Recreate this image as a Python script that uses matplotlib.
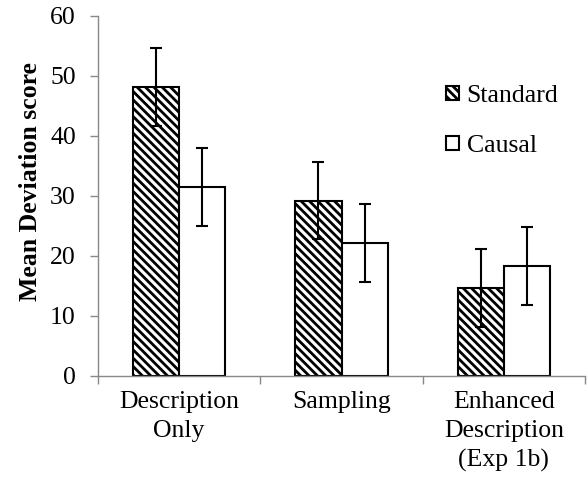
import matplotlib
matplotlib.use('Agg')
import matplotlib.pyplot as plt
import numpy as np

plt.rcParams['font.family'] = ['Liberation Serif', 'DejaVu Serif']
plt.rcParams['font.size'] = 18.5
plt.rcParams['hatch.linewidth'] = 2.0

categories = ['Description\nOnly', 'Sampling', 'Enhanced\nDescription\n(Exp 1b)']
standard = [48.2, 29.2, 14.7]
causal = [31.5, 22.2, 18.3]
standard_err = [6.5, 6.4, 6.5]
causal_err = [6.5, 6.5, 6.5]

fig = plt.figure(figsize=(5.88, 4.84), dpi=100)
ax = fig.add_axes([98/588, 1-376/484, 487/588, 360/484])

x = np.arange(len(categories))
w = 0.285
ax.bar(x - w/2, standard, w, color='white', edgecolor='black', hatch='\\\\\\\\',
       linewidth=1.5, label='Standard', zorder=2)
ax.bar(x + w/2, causal, w, color='white', edgecolor='black',
       linewidth=1.5, label='Causal', zorder=2)
ax.errorbar(x - w/2, standard, yerr=standard_err, fmt='none', ecolor='black',
            elinewidth=1.5, capsize=4.5, capthick=1.5, zorder=3)
ax.errorbar(x + w/2, causal, yerr=causal_err, fmt='none', ecolor='black',
            elinewidth=1.5, capsize=4.5, capthick=1.5, zorder=3)

ax.set_xlim(-0.5, 2.5)
ax.set_ylim(0, 60)
ax.set_yticks(range(0, 61, 10))
ax.set_xticks([-0.5, 0.5, 1.5, 2.5])
ax.set_xticklabels([])
ax.set_xticks(x, minor=True)
ax.set_xticklabels(categories, minor=True, linespacing=1.4)
ax.tick_params(axis='x', which='minor', length=0, pad=11)
ax.tick_params(axis='x', which='major', length=6, color='#888888', width=1)
ax.tick_params(axis='y', length=6, color='#888888', width=1, pad=10)

for s in ['top', 'right']:
    ax.spines[s].set_visible(False)
for s in ['left', 'bottom']:
    ax.spines[s].set_color('#888888')
    ax.spines[s].set_linewidth(1)

ax.set_ylabel('Mean Deviation score', fontweight='bold')
ax.yaxis.set_label_coords(-0.115, 0.54)

ax.legend(loc='upper left', bbox_to_anchor=(446/588, 1-85/484),
          bbox_transform=fig.transFigure, frameon=False,
          borderpad=0, borderaxespad=0,
          handlelength=0.5, handleheight=0.5, handletextpad=0.3,
          labelspacing=1.1)

fig.savefig('out.png', dpi=100)
